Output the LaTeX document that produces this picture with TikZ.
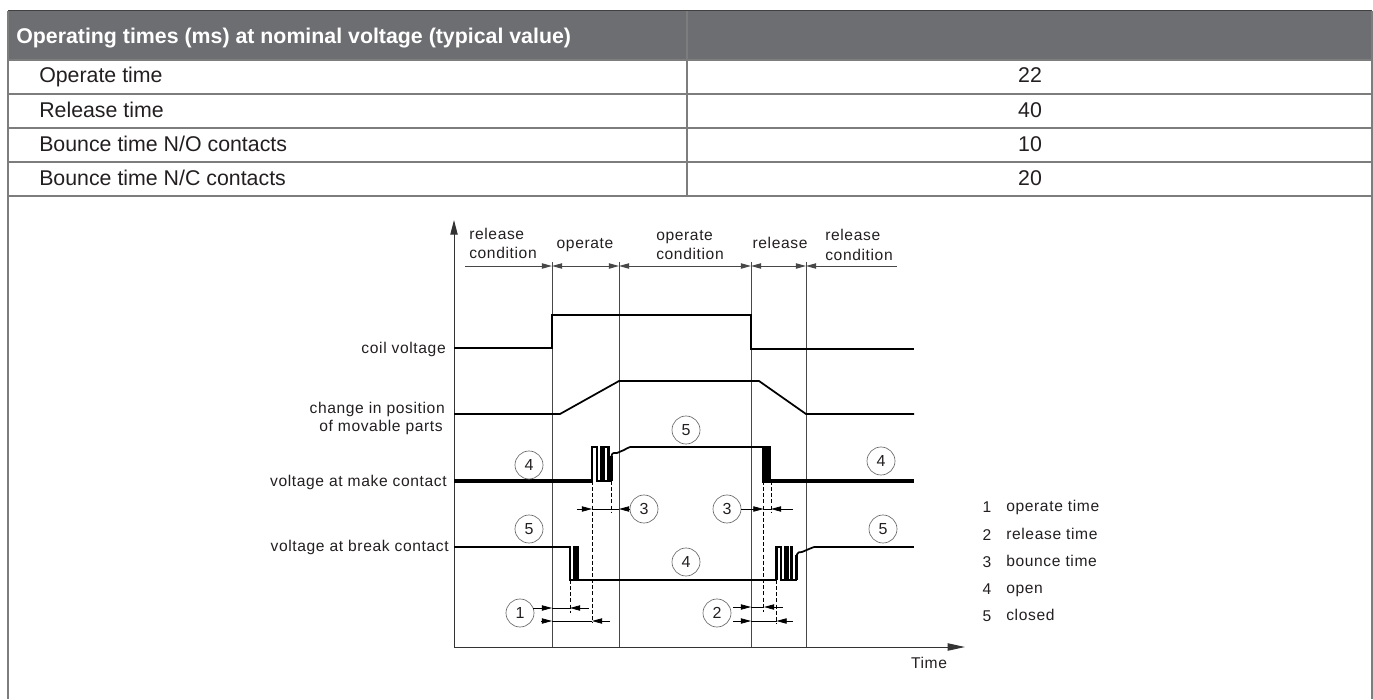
\documentclass[tikz,border=0pt]{standalone}
\usepackage{fontspec}
\usetikzlibrary{arrows.meta}
\setmainfont{Liberation Sans}
\newfontfamily\diagfont[LetterSpace=4]{Liberation Sans}
\definecolor{hdrgray}{RGB}{109,110,113}
\definecolor{rulegray}{RGB}{125,125,125}
\definecolor{ink}{RGB}{35,31,32}
\definecolor{markgray}{RGB}{105,105,105}

\begin{document}
\begin{tikzpicture}[x=0.75pt,y=-0.75pt,
                    tcell/.style={font=\fontsize{16}{18}\selectfont, color=ink, inner sep=0pt, anchor=base},
                    thead/.style={font=\fontsize{16}{18}\selectfont\bfseries, color=white, inner sep=0pt, anchor=base west},
                    lab/.style={font=\fontsize{11.7}{13}\selectfont\diagfont, color=ink, inner sep=0pt, anchor=base, yshift=-0.75pt},
                    num/.style={draw=markgray, line width=0.5pt, circle, minimum size=21pt, inner sep=0pt,
                                font=\fontsize{12}{14}\selectfont, text=ink},
                    grid/.style={rulegray, line width=0.9pt},
                    phase/.style={black!72, line width=0.75pt},
                    sig/.style={black, line width=2pt, line join=miter},
                    puls/.style={black, line width=1.8pt, line join=miter},
                    meas/.style={black, line width=0.55pt},
                    drop/.style={black, line width=0.6pt, dash pattern=on 3pt off 1.6pt},
                    >={Triangle[length=7.6pt,width=4pt]}]
  \useasboundingbox (0,0) rectangle (1373,699);

  % table head and rows
  \fill[hdrgray] (8,11) rectangle (1372,60);
  \draw[black!75, line width=0.75pt] (8,11) -- (1372,11);
  \draw[grid] (8,11) -- (8,699);
  \draw[grid] (1372,11) -- (1372,699);
  \foreach \yy in {60,94,128,162,196}
    \draw[grid] (8,\yy) -- (1372,\yy);
  \draw[grid] (687,11) -- (687,196);

  \node[thead] (hdr) at (16,43.5) {Operating times (ms) at nominal voltage (typical value)};
  \foreach \nm/\yy/\txt/\val in {oper/83/{Operate time}/22, rel/117/{Release time}/40,
                                 bno/151/{Bounce time N/O contacts}/10, bnc/185/{Bounce time N/C contacts}/20} {
    \node[tcell, anchor=base west] (\nm) at (39,\yy) {\txt};
    \node[tcell] (\nm val) at (1030,\yy) {\val};
  }

  % axes
  \coordinate (org) at (454,647);
  \coordinate (ytop) at (454,220);
  \coordinate (xend) at (965,647);
  \draw[-{Triangle[length=11pt,width=5.5pt]}, black!80, line width=0.75pt] (org) -- (ytop);
  \draw[-{Triangle[length=13pt,width=5.5pt]}, black!80, line width=0.75pt] (org) -- (xend);
  \foreach \xx in {552,619,751,806}
    \draw[phase] (\xx,262) -- (\xx,647);

  % phase marks
  \draw[phase, ->] (465,266) -- (552,266);
  \draw[phase, <->] (552,266) -- (619,266);
  \draw[phase, <->] (619,266) -- (751,266);
  \draw[phase, <->] (751,266) -- (806,266);
  \draw[phase, <-] (806,266) -- (897,266);

  \node[lab, anchor=base west] (rc1) at (469,238) {release};
  \node[lab, anchor=base west] (rc2) at (469,257) {condition};
  \node[lab] (op) at (585,247) {operate};
  \node[lab, anchor=base west] (oc1) at (656,239) {operate};
  \node[lab, anchor=base west] (oc2) at (656,258) {condition};
  \node[lab] (re) at (780,247) {release};
  \node[lab, anchor=base west] (rd1) at (825,239) {release};
  \node[lab, anchor=base west] (rd2) at (825,259) {condition};

  \node[lab, anchor=base east] (coil) at (446,352) {coil voltage};
  \node[lab, anchor=base east] (pos1) at (445,412) {change in position};
  \node[lab, anchor=base east] (pos2) at (443,430) {of movable parts};
  \node[lab, anchor=base east] (make) at (447,485) {voltage at make contact};
  \node[lab, anchor=base east] (brk) at (449,550) {voltage at break contact};
  \node[lab] (time) at (929,667) {Time};

  % signals
  \draw[sig] (454,348) -- (552,348) -- (552,315) -- (751,315) -- (751,349) -- (914,349);
  \draw[black, line width=1.3pt] (454,414) -- (560,414) -- (619,381) -- (759,381) -- (806,414) -- (914,414);

  % make contact
  \draw[sig, line width=2.4pt] (454,481) -- (592,481);
  \draw[puls] (592,481) -- (592,447) -- (597,447) -- (597,481);
  \fill[black] (600,446) rectangle (605,482);
  \draw[puls] (605,447) -- (608.5,447) -- (608.5,481);
  \draw[sig] (596,481) -- (612,481);
  \draw[puls] (611.5,481) -- (611.5,456);
  \draw[black, line width=1.3pt] (611.5,456) .. controls (612,452) and (615,453) .. (617,453)
    .. controls (620,453) and (621,450) .. (624,450) .. controls (626,450) and (627,447) .. (630,447);
  \draw[sig, line width=1.7pt] (630,447) -- (763,447);
  \fill[black] (762,446) rectangle (771,482.5);
  \draw[sig, line width=2.6pt] (771,481) -- (914,481);

  % break contact
  \draw[sig, line width=1.7pt] (454,547) -- (570,547) -- (570,580);
  \fill[black] (573,546) rectangle (578.5,581);
  \draw[sig] (569,580) -- (777,580);
  \draw[puls] (776.5,580) -- (776.5,547) -- (781,547) -- (781,580);
  \fill[black] (783.5,546) rectangle (789,581);
  \fill[black] (790,546) rectangle (793,581);
  \draw[sig] (780,580) -- (797,580);
  \draw[puls] (796.5,580) -- (796.5,555);
  \draw[black, line width=1.3pt] (796.5,555) .. controls (797,552) and (800,552) .. (802,552)
    .. controls (805,552) and (806,549) .. (809,549) .. controls (811,549) and (812,547) .. (814,547);
  \draw[sig, line width=1.7pt] (814,547) -- (914,547);

  % drop lines for the times
  \draw[drop] (592,481) -- (592,623);
  \draw[drop] (611.5,481) -- (611.5,513);
  \draw[drop] (570,580) -- (570,613);
  \draw[drop] (763.5,481) -- (763.5,612);
  \draw[drop] (771,481) -- (771,512);
  \draw[drop] (776.5,580) -- (776.5,624);

  % numbered marks
  \node[num] (m4a) at (529,465) {4};
  \node[num] (m5a) at (529,529) {5};
  \node[num] (m5b) at (686,430) {5};
  \node[num] (m4b) at (686,562) {4};
  \node[num] (m3a) at (644,509) {3};
  \node[num] (m3b) at (727,509) {3};
  \node[num] (m4c) at (881,461) {4};
  \node[num] (m5c) at (883,529) {5};
  \node[num] (m1) at (520,613) {1};
  \node[num] (m2) at (717,613) {2};

  % measuring arrows
  \draw[meas, ->] (577,509) -- (592,509);
  \draw[meas] (592,509) -- (619,509);
  \draw[meas, <-] (619,509) -- (m3a);
  \draw[meas, <-] (763.5,509) -- (m3b);
  \draw[meas] (763.5,509) -- (771,509);
  \draw[meas, <-] (771,509) -- (793,509);

  \draw[meas, ->] (533,608) -- (552,608);
  \draw[meas] (552,608) -- (570,608);
  \draw[meas, <-] (570,608) -- (589,608);
  \draw[meas, ->] (541,621) -- (552,621);
  \draw[meas] (552,621) -- (592,621);
  \draw[meas, <-] (592,621) -- (610,621);

  \draw[meas, ->] (733,607) -- (751,607);
  \draw[meas] (751,607) -- (764,607);
  \draw[meas, <-] (764,607) -- (783,607);
  \draw[meas, ->] (733,621) -- (751,621);
  \draw[meas] (751,621) -- (776.5,621);
  \draw[meas, <-] (776.5,621) -- (793,621);

  % key
  \foreach \nm/\yy/\txt in {1/510/operate time, 2/538/release time, 3/565/bounce time, 4/592/open, 5/619/closed} {
    \node[lab] (k\nm) at (987,\yy+1) {\nm};
    \node[lab, anchor=base west] (t\nm) at (1006,\yy) {\txt};
  }
\end{tikzpicture}
\end{document}
